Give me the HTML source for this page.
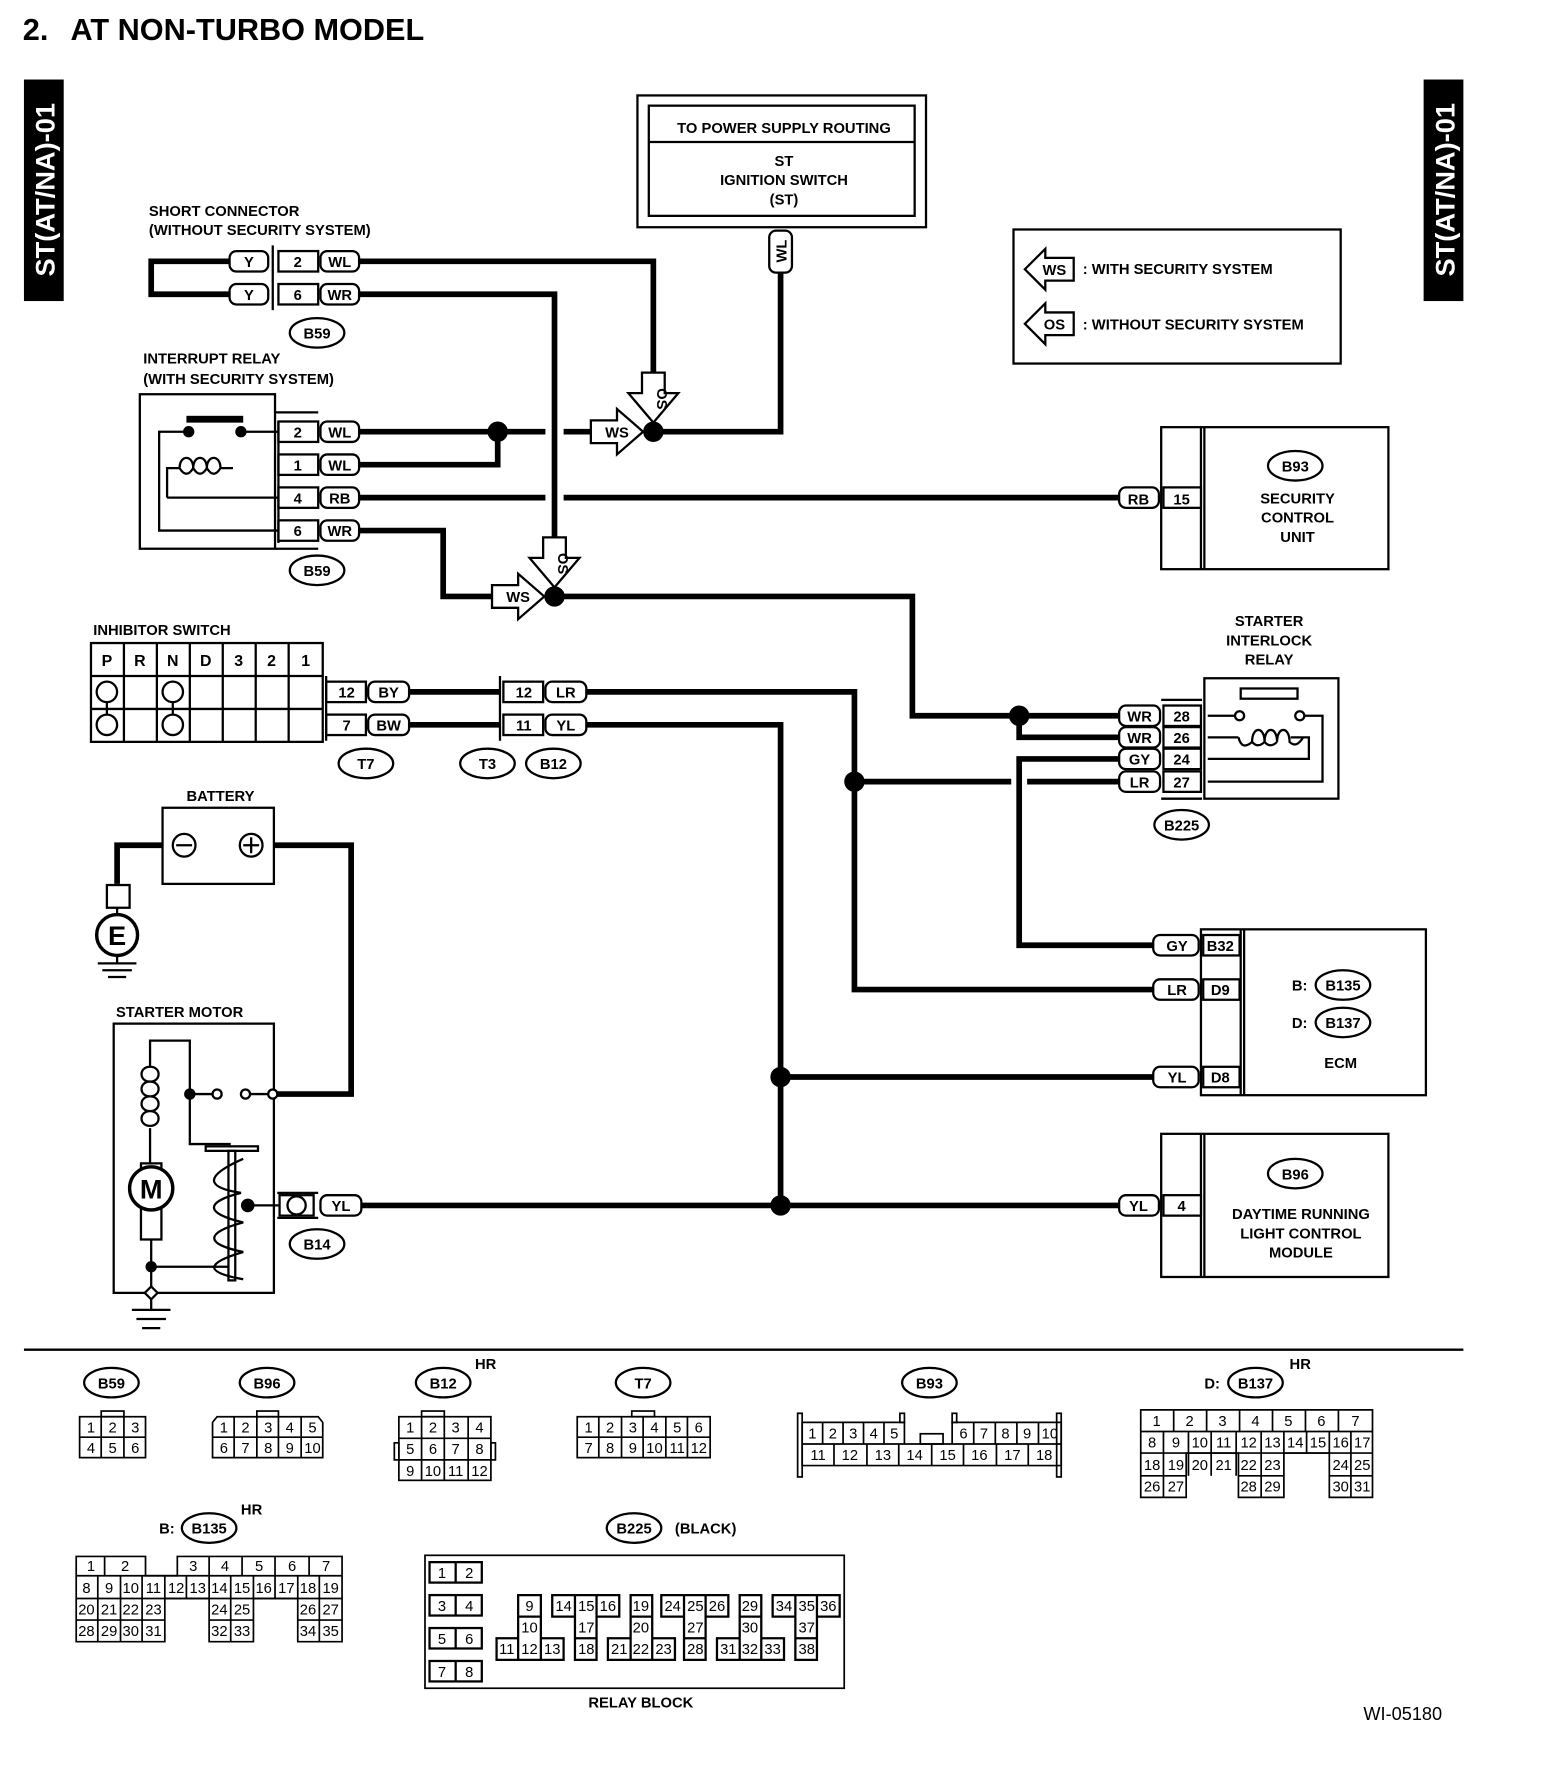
<!DOCTYPE html>
<html><head><meta charset="utf-8"><style>
html,body{margin:0;padding:0;background:#fff}
svg{display:block}
text{font-family:"Liberation Sans",Arial,sans-serif;fill:#000}
.b{font-weight:bold}
</style></head><body>
<svg width="1568" height="1778" viewBox="0 0 1380 1565" xmlns="http://www.w3.org/2000/svg">
<g font-size="13" font-weight="bold">
<!-- title -->
<text x="20" y="35" font-size="27" class="b">2.</text>
<text x="62" y="35" font-size="27" class="b">AT NON-TURBO MODEL</text>
<!-- side tabs -->
<rect x="21" y="70" width="35" height="195" fill="#000"/>
<text transform="translate(48,167) rotate(-90)" text-anchor="middle" font-size="24" style="fill:#fff">ST(AT/NA)-01</text>
<rect x="1253" y="70" width="35" height="195" fill="#000"/>
<text transform="translate(1280,167) rotate(-90)" text-anchor="middle" font-size="24" style="fill:#fff">ST(AT/NA)-01</text>

<g fill="none" stroke="#000" stroke-width="2">
<rect x="561" y="84" width="254" height="116"/>
<rect x="571" y="93" width="234" height="97"/>
<line x1="571" y1="125" x2="805" y2="125"/>
<rect x="892" y="202" width="288" height="118"/>
<polygon points="902,237 920,219 920,227 945,227 945,247 920,247 920,255"/>
<polygon points="902,285 920,267 920,275 945,275 945,295 920,295 920,303"/>
</g>
<text x="690" y="117" text-anchor="middle">TO POWER SUPPLY ROUTING</text>
<text x="690" y="146" text-anchor="middle">ST</text>
<text x="690" y="163" text-anchor="middle">IGNITION SWITCH</text>
<text x="690" y="180" text-anchor="middle">(ST)</text>
<text x="928" y="242" text-anchor="middle">WS</text>
<text x="928" y="290" text-anchor="middle">OS</text>
<text x="953" y="241">: WITH SECURITY SYSTEM</text>
<text x="953" y="290">: WITHOUT SECURITY SYSTEM</text>

<g fill="none" stroke="#000" stroke-width="5" stroke-linejoin="miter">
<polyline points="687,240 687,380 575,380"/>
<polyline points="202,230 133,230 133,259 202,259"/>
<polyline points="316,230 575,230 575,330"/>
<polyline points="316,259 488,259 488,475"/>
<line x1="316" y1="380" x2="480" y2="380"/>
<line x1="496" y1="380" x2="522" y2="380"/>
<polyline points="316,409 438,409 438,380"/>
<line x1="316" y1="438" x2="480" y2="438"/>
<line x1="496" y1="438" x2="985" y2="438"/>
<polyline points="316,467 390,467 390,525 435,525"/>
<polyline points="488,525 803,525 803,630 985,630"/>
<polyline points="897,630 897,649 985,649"/>
<polyline points="985,668 897,668 897,832 1015,832"/>
<line x1="752" y1="688" x2="890" y2="688"/>
<line x1="904" y1="688" x2="985" y2="688"/>
<polyline points="360,609 440,609"/>
<polyline points="360,638 440,638"/>
<polyline points="516,609 752,609 752,871 1015,871"/>
<polyline points="516,638 687,638 687,1061"/>
<line x1="687" y1="948" x2="1015" y2="948"/>
<line x1="318" y1="1061" x2="985" y2="1061"/>
<polyline points="143,744 103,744 103,778"/>
<polyline points="241,744 309,744 309,963 243,963"/>
</g>
<g fill="#000">
<circle cx="575" cy="380" r="9"/><circle cx="438" cy="380" r="9"/>
<circle cx="488" cy="525" r="9"/><circle cx="897" cy="630" r="9"/>
<circle cx="752" cy="688" r="9"/><circle cx="687" cy="948" r="9"/>
<circle cx="687" cy="1061" r="9"/>
</g>

<g fill="#fff" stroke="#000" stroke-width="2">
<polygon points="565,328 585,328 585,346 597,346 575,372 553,346 565,346"/>
<polygon points="520,370 543,370 543,360 566,380 543,400 543,390 520,390"/>
<polygon points="478,473 498,473 498,491 510,491 488,517 466,491 478,491"/>
<polygon points="433,515 456,515 456,505 479,525 456,545 456,535 433,535"/>
</g>
<text transform="translate(578,351) rotate(90)" text-anchor="middle">OS</text>
<text x="543" y="385" text-anchor="middle">WS</text>
<text transform="translate(491,496) rotate(90)" text-anchor="middle">OS</text>
<text x="456" y="530" text-anchor="middle">WS</text>

<rect x="677" y="203" width="20" height="37" rx="6" fill="#fff" stroke="#000" stroke-width="2"/>
<text transform="translate(692,221) rotate(-90)" text-anchor="middle">WL</text>

<!-- short connector -->
<text x="131" y="190">SHORT CONNECTOR</text>
<text x="131" y="207">(WITHOUT SECURITY SYSTEM)</text>
<g fill="#fff" stroke="#000" stroke-width="2">
<rect x="202" y="221" width="34" height="18" rx="6"/><rect x="202" y="250" width="34" height="18" rx="6"/>
<rect x="245" y="221" width="35" height="18"/><rect x="245" y="250" width="35" height="18"/>
<rect x="282" y="221" width="34" height="18" rx="6"/><rect x="282" y="250" width="34" height="18" rx="6"/>
<ellipse cx="279" cy="293" rx="24" ry="13"/>
</g>
<polyline points="240,216 240,273" stroke="#000" stroke-width="2" fill="none"/>
<text x="219" y="235" text-anchor="middle">Y</text><text x="219" y="264" text-anchor="middle">Y</text>
<text x="262" y="235" text-anchor="middle">2</text><text x="262" y="264" text-anchor="middle">6</text>
<text x="299" y="235" text-anchor="middle">WL</text><text x="299" y="264" text-anchor="middle">WR</text>
<text x="279" y="298" text-anchor="middle">B59</text>

<!-- interrupt relay -->
<text x="126" y="320">INTERRUPT RELAY</text>
<text x="126" y="338">(WITH SECURITY SYSTEM)</text>
<g fill="none" stroke="#000" stroke-width="2">
<rect x="123" y="347" width="119" height="136"/>
<polyline points="242,363 280,363"/><polyline points="242,483 280,483"/>
<rect x="245" y="371" width="35" height="18" fill="#fff"/>
<rect x="245" y="400" width="35" height="18" fill="#fff"/>
<rect x="245" y="429" width="35" height="18" fill="#fff"/>
<rect x="245" y="458" width="35" height="18" fill="#fff"/>
<line x1="245" y1="371" x2="245" y2="478"/>
<path d="M166,380 H140 V467 H245 M212,380 H245"/>
<path d="M147,438 V412 H158 M194,412 H205 M245,438 H147"/>
<path d="M158,412 c0,-12 12,-12 12,0 c0,-12 12,-12 12,0 c0,-12 12,-12 12,0 M158,412 q6,10 12,0 q6,10 12,0 q6,10 12,0"/>
<rect x="282" y="371" width="34" height="18" rx="6" fill="#fff"/>
<rect x="282" y="400" width="34" height="18" rx="6" fill="#fff"/>
<rect x="282" y="429" width="34" height="18" rx="6" fill="#fff"/>
<rect x="282" y="458" width="34" height="18" rx="6" fill="#fff"/>
<ellipse cx="279" cy="502" rx="24" ry="13" fill="#fff"/>
</g>
<rect x="164" y="366" width="50" height="6" fill="#000"/>
<circle cx="166" cy="380" r="5"/><circle cx="212" cy="380" r="5"/>
<text x="262" y="385" text-anchor="middle">2</text><text x="262" y="414" text-anchor="middle">1</text>
<text x="262" y="443" text-anchor="middle">4</text><text x="262" y="472" text-anchor="middle">6</text>
<text x="299" y="385" text-anchor="middle">WL</text><text x="299" y="414" text-anchor="middle">WL</text>
<text x="299" y="443" text-anchor="middle">RB</text><text x="299" y="472" text-anchor="middle">WR</text>
<text x="279" y="507" text-anchor="middle">B59</text>

<!-- B93 security unit -->
<g fill="none" stroke="#000" stroke-width="2">
<rect x="1022" y="376" width="200" height="125"/>
<line x1="1060" y1="376" x2="1060" y2="501"/><line x1="1057" y1="376" x2="1057" y2="501"/>
<rect x="1024" y="429" width="33" height="18" fill="#fff"/>
<rect x="985" y="429" width="35" height="18" rx="6" fill="#fff"/>
<ellipse cx="1140" cy="410" rx="24" ry="13"/>
</g>
<text x="1040" y="444" text-anchor="middle">15</text>
<text x="1002" y="444" text-anchor="middle">RB</text>
<text x="1140" y="415" text-anchor="middle">B93</text>
<text x="1142" y="443" text-anchor="middle">SECURITY</text>
<text x="1142" y="460" text-anchor="middle">CONTROL</text>
<text x="1142" y="477" text-anchor="middle">UNIT</text>

<!-- inhibitor switch -->
<text x="82" y="559">INHIBITOR SWITCH</text>
<g fill="none" stroke="#000" stroke-width="2">
<rect x="80" y="566" width="204" height="87"/>
<line x1="80" y1="595" x2="284" y2="595"/><line x1="80" y1="624" x2="284" y2="624"/>
<line x1="109" y1="566" x2="109" y2="653"/><line x1="138" y1="566" x2="138" y2="653"/>
<line x1="167" y1="566" x2="167" y2="653"/><line x1="196" y1="566" x2="196" y2="653"/>
<line x1="225" y1="566" x2="225" y2="653"/><line x1="254" y1="566" x2="254" y2="653"/>
<circle cx="94" cy="609" r="9"/><circle cx="94" cy="638" r="9"/>
<circle cx="152" cy="609" r="9"/><circle cx="152" cy="638" r="9"/>
<line x1="94" y1="618" x2="94" y2="629"/><line x1="152" y1="618" x2="152" y2="629"/>
<rect x="287" y="600" width="35" height="18"/><rect x="287" y="629" width="35" height="18"/>
<rect x="324" y="600" width="36" height="18" rx="6"/><rect x="324" y="629" width="36" height="18" rx="6"/>
<line x1="287" y1="595" x2="287" y2="652"/>
<rect x="443" y="600" width="35" height="18"/><rect x="443" y="629" width="35" height="18"/>
<line x1="440" y1="595" x2="440" y2="652"/>
<rect x="480" y="600" width="36" height="18" rx="6"/><rect x="480" y="629" width="36" height="18" rx="6"/>
<ellipse cx="322" cy="672" rx="24" ry="13"/><ellipse cx="429" cy="672" rx="24" ry="13"/><ellipse cx="487" cy="672" rx="24" ry="13"/>
</g>
<g text-anchor="middle" font-size="14">
<text x="94" y="586">P</text><text x="123" y="586">R</text><text x="152" y="586">N</text><text x="181" y="586">D</text>
<text x="210" y="586">3</text><text x="239" y="586">2</text><text x="269" y="586">1</text>
</g>
<g text-anchor="middle">
<text x="305" y="614">12</text><text x="305" y="643">7</text>
<text x="342" y="614">BY</text><text x="342" y="643">BW</text>
<text x="461" y="614">12</text><text x="461" y="643">11</text>
<text x="498" y="614">LR</text><text x="498" y="643">YL</text>
<text x="322" y="677">T7</text><text x="429" y="677">T3</text><text x="487" y="677">B12</text>
</g>

<!-- starter interlock relay -->
<text x="1117" y="551" text-anchor="middle">STARTER</text>
<text x="1117" y="568" text-anchor="middle">INTERLOCK</text>
<text x="1117" y="585" text-anchor="middle">RELAY</text>
<g fill="none" stroke="#000" stroke-width="2">
<rect x="1060" y="597" width="118" height="106"/>
<polyline points="1022,616 1058,616"/><polyline points="1022,703 1058,703"/>
<rect x="1024" y="621" width="33" height="18" fill="#fff"/>
<rect x="1024" y="640" width="33" height="18" fill="#fff"/>
<rect x="1024" y="659" width="33" height="18" fill="#fff"/>
<rect x="1024" y="679" width="33" height="18" fill="#fff"/>
<rect x="985" y="621" width="36" height="18" rx="6" fill="#fff"/>
<rect x="985" y="640" width="36" height="18" rx="6" fill="#fff"/>
<rect x="985" y="659" width="36" height="18" rx="6" fill="#fff"/>
<rect x="985" y="679" width="36" height="18" rx="6" fill="#fff"/>
<rect x="1092" y="606" width="50" height="9"/>
<path d="M1063,630 H1087 M1148,630 H1164 V688 H1063"/>
<circle cx="1091" cy="630" r="4"/><circle cx="1144" cy="630" r="4"/>
<path d="M1063,649 H1090 M1136,649 H1152 V668 H1063"/>
<path d="M1090,649 q3,12 12,4 c0,-14 11,-14 11,0 c0,-14 11,-14 11,0 c0,-14 11,-14 11,0 q6,6 12,-4 M1102,653 q5,6 11,0 q5,6 11,0"/>
<ellipse cx="1040" cy="726" rx="24" ry="13"/>
</g>
<g text-anchor="middle">
<text x="1040" y="635">28</text><text x="1040" y="654">26</text><text x="1040" y="673">24</text><text x="1040" y="693">27</text>
<text x="1003" y="635">WR</text><text x="1003" y="654">WR</text><text x="1003" y="673">GY</text><text x="1003" y="693">LR</text>
<text x="1040" y="731">B225</text>
</g>

<!-- ECM -->
<g fill="none" stroke="#000" stroke-width="2">
<rect x="1057" y="818" width="198" height="146"/>
<line x1="1095" y1="818" x2="1095" y2="964"/><line x1="1092" y1="818" x2="1092" y2="964"/>
<rect x="1059" y="823" width="32" height="18" fill="#fff"/>
<rect x="1059" y="862" width="32" height="18" fill="#fff"/>
<rect x="1059" y="939" width="32" height="18" fill="#fff"/>
<rect x="1015" y="823" width="40" height="18" rx="6" fill="#fff"/>
<rect x="1015" y="862" width="40" height="18" rx="6" fill="#fff"/>
<rect x="1015" y="939" width="40" height="18" rx="6" fill="#fff"/>
<ellipse cx="1182" cy="867" rx="24" ry="13"/><ellipse cx="1182" cy="900" rx="24" ry="13"/>
</g>
<g text-anchor="middle">
<text x="1074" y="837">B32</text><text x="1074" y="876">D9</text><text x="1074" y="953">D8</text>
<text x="1036" y="837">GY</text><text x="1036" y="876">LR</text><text x="1036" y="953">YL</text>
<text x="1182" y="872">B135</text><text x="1182" y="905">B137</text>
<text x="1180" y="940">ECM</text>
</g>
<text x="1137" y="872">B:</text><text x="1137" y="905">D:</text>

<!-- B96 DRL -->
<g fill="none" stroke="#000" stroke-width="2">
<rect x="1022" y="998" width="200" height="126"/>
<line x1="1060" y1="998" x2="1060" y2="1124"/><line x1="1057" y1="998" x2="1057" y2="1124"/>
<rect x="1024" y="1052" width="33" height="18" fill="#fff"/>
<rect x="985" y="1052" width="35" height="18" rx="6" fill="#fff"/>
<ellipse cx="1140" cy="1033" rx="24" ry="13"/>
</g>
<text x="1040" y="1066" text-anchor="middle">4</text>
<text x="1002" y="1066" text-anchor="middle">YL</text>
<text x="1140" y="1038" text-anchor="middle">B96</text>
<text x="1145" y="1073" text-anchor="middle">DAYTIME RUNNING</text>
<text x="1145" y="1090" text-anchor="middle">LIGHT CONTROL</text>
<text x="1145" y="1107" text-anchor="middle">MODULE</text>

<!-- battery -->
<text x="194" y="705" text-anchor="middle">BATTERY</text>
<g fill="none" stroke="#000" stroke-width="2">
<rect x="143" y="711" width="98" height="67"/>
<circle cx="162" cy="744" r="10"/><circle cx="221" cy="744" r="10"/>
<line x1="155" y1="744" x2="169" y2="744"/><line x1="214" y1="744" x2="228" y2="744"/><line x1="221" y1="737" x2="221" y2="751"/>
<rect x="94" y="779" width="20" height="20"/>
<line x1="103" y1="799" x2="103" y2="805"/>
<circle cx="103" cy="823" r="18" stroke-width="3"/>
<line x1="103" y1="841" x2="103" y2="848"/>
<line x1="86" y1="848" x2="120" y2="848"/><line x1="90" y1="854" x2="116" y2="854"/><line x1="95" y1="860" x2="111" y2="860"/>
</g>
<text x="103" y="832" text-anchor="middle" font-size="24">E</text>

<!-- starter motor -->
<text x="102" y="895">STARTER MOTOR</text>
<g fill="none" stroke="#000" stroke-width="2">
<rect x="100" y="901" width="141" height="237"/>
<path d="M132,993 V1024 M132,939 V916 H167 V1007 H203"/>
<path d="M132,939 c-10,0 -10,13 0,13 c-10,0 -10,13 0,13 c-10,0 -10,13 0,13 c-10,0 -10,13 0,13"/>
<path d="M132,939 c10,0 10,13 0,13 c10,0 10,13 0,13 c10,0 10,13 0,13 c10,0 10,13 0,13"/>
<line x1="167" y1="963" x2="187" y2="963"/><line x1="220" y1="963" x2="237" y2="963"/>
<circle cx="191" cy="963" r="4"/><circle cx="216" cy="963" r="4"/><circle cx="240" cy="963" r="4" fill="#fff"/>
<rect x="124" y="1024" width="18" height="67"/>
<circle cx="133" cy="1046" r="19" fill="#fff" stroke-width="3"/>
<path d="M133,1091 V1138 M133,1115 H201"/>
<rect x="181" y="1009" width="46" height="4"/>
<rect x="201" y="1013" width="6" height="114"/>
<path d="M214,1020 C180,1035 180,1045 212,1050 C180,1058 180,1068 214,1076 C180,1085 180,1095 214,1102 C180,1112 180,1120 214,1126"/>
<path d="M218,1061 H245"/>
<path d="M244,1050 H280 M244,1072 H280"/>
<rect x="246" y="1052" width="30" height="18"/>
<circle cx="261" cy="1061" r="8"/>
<rect x="282" y="1052" width="36" height="18" rx="6" fill="#fff"/>
<ellipse cx="279" cy="1095" rx="24" ry="13"/>
<path d="M133,1138 V1153 M116,1153 H150 M120,1161 H146 M125,1169 H141"/>
<rect x="129" y="1134" width="8" height="8" transform="rotate(45 133 1138)" fill="#fff"/>
</g>
<circle cx="167" cy="963" r="5"/><circle cx="133" cy="1115" r="5"/><circle cx="218" cy="1061" r="6"/>
<text x="133" y="1055" text-anchor="middle" font-size="24">M</text>
<text x="300" y="1066" text-anchor="middle">YL</text>
<text x="279" y="1100" text-anchor="middle">B14</text>

<line x1="21" y1="1188" x2="1288" y2="1188" stroke="#000" stroke-width="2"/>

<g fill="none" stroke="#000" stroke-width="2">
<ellipse cx="98" cy="1217" rx="24" ry="13"/><ellipse cx="235" cy="1217" rx="24" ry="13"/>
<ellipse cx="390" cy="1217" rx="24" ry="13"/><ellipse cx="566" cy="1217" rx="24" ry="13"/>
<ellipse cx="818" cy="1217" rx="24" ry="13"/><ellipse cx="1105" cy="1217" rx="24" ry="13"/>
<ellipse cx="184" cy="1345" rx="24" ry="13"/><ellipse cx="558" cy="1345" rx="24" ry="13"/>
</g>
<g text-anchor="middle">
<text x="98" y="1222">B59</text><text x="235" y="1222">B96</text><text x="390" y="1222">B12</text>
<text x="566" y="1222">T7</text><text x="818" y="1222">B93</text><text x="1105" y="1222">B137</text>
<text x="184" y="1350">B135</text><text x="558" y="1350">B225</text>
</g>
<text x="418" y="1205">HR</text><text x="1135" y="1205">HR</text><text x="212" y="1333">HR</text>
<text x="1060" y="1222">D:</text><text x="140" y="1350">B:</text>
<text x="594" y="1350">(BLACK)</text>
<text x="564" y="1503" text-anchor="middle">RELAY BLOCK</text>
<text x="1200" y="1514" font-size="16" font-weight="normal">WI-05180</text>

<g fill="none" stroke="#000" stroke-width="1.5">
<rect x="70" y="1247" width="58" height="36"/><line x1="70" y1="1265" x2="128" y2="1265"/>
<line x1="89" y1="1247" x2="89" y2="1283"/><line x1="109" y1="1247" x2="109" y2="1283"/>
<rect x="89" y="1242" width="20" height="5"/>
<path d="M191,1247 H280 L284,1252 V1283 H187 V1252 Z"/><line x1="187" y1="1265" x2="284" y2="1265"/>
<line x1="206" y1="1247" x2="206" y2="1283"/><line x1="226" y1="1247" x2="226" y2="1283"/><line x1="245" y1="1247" x2="245" y2="1283"/><line x1="265" y1="1247" x2="265" y2="1283"/>
<rect x="226" y="1242" width="19" height="5"/>
<rect x="351" y="1247" width="81" height="56"/><line x1="351" y1="1266" x2="432" y2="1266"/><line x1="351" y1="1285" x2="432" y2="1285"/>
<line x1="371" y1="1247" x2="371" y2="1303"/><line x1="391" y1="1247" x2="391" y2="1303"/><line x1="412" y1="1247" x2="412" y2="1303"/>
<rect x="371" y="1242" width="20" height="5"/><rect x="347" y="1270" width="4" height="15"/><rect x="432" y="1270" width="4" height="15"/>
<rect x="508" y="1247" width="117" height="36"/><line x1="508" y1="1265" x2="625" y2="1265"/>
<line x1="527" y1="1247" x2="527" y2="1283"/><line x1="547" y1="1247" x2="547" y2="1283"/><line x1="566" y1="1247" x2="566" y2="1283"/><line x1="586" y1="1247" x2="586" y2="1283"/><line x1="605" y1="1247" x2="605" y2="1283"/>
<rect x="556" y="1242" width="20" height="5"/>
<!-- B93 -->
<path d="M796,1271 V1252 H706 V1290 H934 V1252 H838 V1271"/>
<line x1="706" y1="1271" x2="934" y2="1271"/>
<line x1="724" y1="1252" x2="724" y2="1271"/><line x1="742" y1="1252" x2="742" y2="1271"/><line x1="760" y1="1252" x2="760" y2="1271"/><line x1="778" y1="1252" x2="778" y2="1271"/>
<line x1="857" y1="1252" x2="857" y2="1271"/><line x1="876" y1="1252" x2="876" y2="1271"/><line x1="895" y1="1252" x2="895" y2="1271"/><line x1="914" y1="1252" x2="914" y2="1271"/>
<line x1="734" y1="1271" x2="734" y2="1290"/><line x1="763" y1="1271" x2="763" y2="1290"/><line x1="791" y1="1271" x2="791" y2="1290"/><line x1="820" y1="1271" x2="820" y2="1290"/><line x1="848" y1="1271" x2="848" y2="1290"/><line x1="877" y1="1271" x2="877" y2="1290"/><line x1="905" y1="1271" x2="905" y2="1290"/>
<rect x="810" y="1262" width="20" height="9"/>
<rect x="702" y="1244" width="4" height="56"/><rect x="930" y="1244" width="4" height="56"/>
<rect x="792" y="1244" width="4" height="8"/><rect x="838" y="1244" width="4" height="8"/>
<!-- B137 -->
<path d="M1004,1241 H1208 V1318 H1170 V1279 H1130 V1318 H1090 V1279 H1044 V1318 H1004 Z"/>
<line x1="1004" y1="1260" x2="1208" y2="1260"/><line x1="1004" y1="1279" x2="1208" y2="1279"/><line x1="1004" y1="1299" x2="1044" y2="1299"/><line x1="1090" y1="1299" x2="1130" y2="1299"/><line x1="1170" y1="1299" x2="1208" y2="1299"/>
<line x1="1033" y1="1241" x2="1033" y2="1260"/><line x1="1062" y1="1241" x2="1062" y2="1260"/><line x1="1091" y1="1241" x2="1091" y2="1260"/><line x1="1120" y1="1241" x2="1120" y2="1260"/><line x1="1149" y1="1241" x2="1149" y2="1260"/><line x1="1178" y1="1241" x2="1178" y2="1260"/>
<line x1="1024" y1="1260" x2="1024" y2="1318"/><line x1="1046" y1="1260" x2="1046" y2="1299"/><line x1="1066" y1="1260" x2="1066" y2="1299"/><line x1="1088" y1="1260" x2="1088" y2="1299"/><line x1="1110" y1="1260" x2="1110" y2="1318"/><line x1="1130" y1="1260" x2="1130" y2="1279"/><line x1="1150" y1="1260" x2="1150" y2="1279"/><line x1="1170" y1="1260" x2="1170" y2="1279"/><line x1="1189" y1="1260" x2="1189" y2="1318"/>
<!-- B135 -->
<path d="M67,1370 H128 V1387 H156 V1370 H301 V1445 H262 V1407 H223 V1445 H184 V1407 H145 V1445 H67 Z"/>
<line x1="67" y1="1387" x2="301" y2="1387"/><line x1="67" y1="1407" x2="301" y2="1407"/><line x1="67" y1="1426" x2="145" y2="1426"/><line x1="184" y1="1426" x2="223" y2="1426"/><line x1="262" y1="1426" x2="301" y2="1426"/>
<line x1="92" y1="1370" x2="92" y2="1387"/><line x1="184" y1="1370" x2="184" y2="1387"/><line x1="213" y1="1370" x2="213" y2="1387"/><line x1="242" y1="1370" x2="242" y2="1387"/><line x1="272" y1="1370" x2="272" y2="1387"/>
<line x1="86" y1="1387" x2="86" y2="1445"/><line x1="106" y1="1387" x2="106" y2="1445"/><line x1="125" y1="1387" x2="125" y2="1445"/><line x1="145" y1="1387" x2="145" y2="1407"/><line x1="164" y1="1387" x2="164" y2="1407"/><line x1="184" y1="1387" x2="184" y2="1407"/><line x1="203" y1="1387" x2="203" y2="1445"/><line x1="223" y1="1387" x2="223" y2="1407"/><line x1="242" y1="1387" x2="242" y2="1407"/><line x1="262" y1="1387" x2="262" y2="1407"/><line x1="281" y1="1387" x2="281" y2="1445"/>
<rect x="374" y="1369" width="369" height="117"/>
</g>
<g fill="none" stroke="#000" stroke-width="2">
<rect x="378" y="1375" width="46" height="18"/><line x1="401" y1="1375" x2="401" y2="1393"/>
<rect x="378" y="1404" width="46" height="18"/><line x1="401" y1="1404" x2="401" y2="1422"/>
<rect x="378" y="1433" width="46" height="18"/><line x1="401" y1="1433" x2="401" y2="1451"/>
<rect x="378" y="1462" width="46" height="18"/><line x1="401" y1="1462" x2="401" y2="1480"/>
<path d="M456,1404 H476 V1442 H496 V1461 H437 V1442 H456 Z M456,1423 H476 M456,1442 V1461 M476,1442 V1461"/>
<path d="M486,1404 H545 V1423 H525 V1461 H506 V1423 H486 Z M506,1404 V1423 M525,1404 V1423 M506,1442 H525"/>
<path d="M555,1404 H574 V1442 H594 V1461 H535 V1442 H555 Z M555,1423 H574 M555,1442 V1461 M574,1442 V1461"/>
<path d="M582,1404 H641 V1423 H621 V1461 H602 V1423 H582 Z M602,1404 V1423 M621,1404 V1423 M602,1442 H621"/>
<path d="M651,1404 H670 V1442 H690 V1461 H631 V1442 H651 Z M651,1423 H670 M651,1442 V1461 M670,1442 V1461"/>
<path d="M680,1404 H739 V1423 H719 V1461 H700 V1423 H680 Z M700,1404 V1423 M719,1404 V1423 M700,1442 H719"/>
</g>
<g text-anchor="middle" font-weight="normal" font-size="13">
<text x="80" y="1261">1</text><text x="99" y="1261">2</text><text x="119" y="1261">3</text>
<text x="80" y="1279">4</text><text x="99" y="1279">5</text><text x="119" y="1279">6</text>
<text x="197" y="1261">1</text><text x="216" y="1261">2</text><text x="236" y="1261">3</text><text x="255" y="1261">4</text><text x="275" y="1261">5</text>
<text x="197" y="1279">6</text><text x="216" y="1279">7</text><text x="236" y="1279">8</text><text x="255" y="1279">9</text><text x="275" y="1279">10</text>
<text x="361" y="1261">1</text><text x="381" y="1261">2</text><text x="401" y="1261">3</text><text x="422" y="1261">4</text>
<text x="361" y="1280">5</text><text x="381" y="1280">6</text><text x="401" y="1280">7</text><text x="422" y="1280">8</text>
<text x="361" y="1299">9</text><text x="381" y="1299">10</text><text x="401" y="1299">11</text><text x="422" y="1299">12</text>
<text x="518" y="1261">1</text><text x="537" y="1261">2</text><text x="557" y="1261">3</text><text x="576" y="1261">4</text><text x="596" y="1261">5</text><text x="615" y="1261">6</text>
<text x="518" y="1279">7</text><text x="537" y="1279">8</text><text x="557" y="1279">9</text><text x="576" y="1279">10</text><text x="596" y="1279">11</text><text x="615" y="1279">12</text>
<text x="715" y="1266">1</text><text x="733" y="1266">2</text><text x="751" y="1266">3</text><text x="769" y="1266">4</text><text x="787" y="1266">5</text>
<text x="848" y="1266">6</text><text x="866" y="1266">7</text><text x="885" y="1266">8</text><text x="904" y="1266">9</text><text x="924" y="1266">10</text>
<text x="720" y="1285">11</text><text x="748" y="1285">12</text><text x="777" y="1285">13</text><text x="805" y="1285">14</text><text x="834" y="1285">15</text><text x="862" y="1285">16</text><text x="891" y="1285">17</text><text x="919" y="1285">18</text>
<text x="1018" y="1255">1</text><text x="1047" y="1255">2</text><text x="1076" y="1255">3</text><text x="1105" y="1255">4</text><text x="1134" y="1255">5</text><text x="1163" y="1255">6</text><text x="1193" y="1255">7</text>
<text x="1014" y="1274">8</text><text x="1035" y="1274">9</text><text x="1056" y="1274">10</text><text x="1077" y="1274">11</text><text x="1099" y="1274">12</text><text x="1120" y="1274">13</text><text x="1140" y="1274">14</text><text x="1160" y="1274">15</text><text x="1180" y="1274">16</text><text x="1199" y="1274">17</text>
<text x="1014" y="1294">18</text><text x="1035" y="1294">19</text><text x="1056" y="1294">20</text><text x="1077" y="1294">21</text><text x="1099" y="1294">22</text><text x="1120" y="1294">23</text><text x="1180" y="1294">24</text><text x="1199" y="1294">25</text>
<text x="1014" y="1313">26</text><text x="1035" y="1313">27</text><text x="1099" y="1313">28</text><text x="1120" y="1313">29</text><text x="1180" y="1313">30</text><text x="1199" y="1313">31</text>
<text x="80" y="1383">1</text><text x="110" y="1383">2</text><text x="170" y="1383">3</text><text x="198" y="1383">4</text><text x="228" y="1383">5</text><text x="257" y="1383">6</text><text x="287" y="1383">7</text>
<text x="76" y="1402">8</text><text x="96" y="1402">9</text><text x="115" y="1402">10</text><text x="135" y="1402">11</text><text x="155" y="1402">12</text><text x="174" y="1402">13</text><text x="193" y="1402">14</text><text x="213" y="1402">15</text><text x="232" y="1402">16</text><text x="252" y="1402">17</text><text x="271" y="1402">18</text><text x="291" y="1402">19</text>
<text x="76" y="1421">20</text><text x="96" y="1421">21</text><text x="115" y="1421">22</text><text x="135" y="1421">23</text><text x="193" y="1421">24</text><text x="213" y="1421">25</text><text x="271" y="1421">26</text><text x="291" y="1421">27</text>
<text x="76" y="1440">28</text><text x="96" y="1440">29</text><text x="115" y="1440">30</text><text x="135" y="1440">31</text><text x="193" y="1440">32</text><text x="213" y="1440">33</text><text x="271" y="1440">34</text><text x="291" y="1440">35</text>
<text x="389" y="1389">1</text><text x="413" y="1389">2</text><text x="389" y="1418">3</text><text x="413" y="1418">4</text>
<text x="389" y="1447">5</text><text x="413" y="1447">6</text><text x="389" y="1476">7</text><text x="413" y="1476">8</text>
<text x="466" y="1418">9</text><text x="466" y="1437">10</text><text x="446" y="1456">11</text><text x="466" y="1456">12</text><text x="486" y="1456">13</text>
<text x="496" y="1418">14</text><text x="516" y="1418">15</text><text x="535" y="1418">16</text><text x="516" y="1437">17</text><text x="516" y="1456">18</text>
<text x="564" y="1418">19</text><text x="564" y="1437">20</text><text x="545" y="1456">21</text><text x="564" y="1456">22</text><text x="584" y="1456">23</text>
<text x="592" y="1418">24</text><text x="612" y="1418">25</text><text x="631" y="1418">26</text><text x="612" y="1437">27</text><text x="612" y="1456">28</text>
<text x="660" y="1418">29</text><text x="660" y="1437">30</text><text x="641" y="1456">31</text><text x="660" y="1456">32</text><text x="680" y="1456">33</text>
<text x="690" y="1418">34</text><text x="710" y="1418">35</text><text x="729" y="1418">36</text><text x="710" y="1437">37</text><text x="710" y="1456">38</text>
</g>
</g>
</svg>
</body></html>
